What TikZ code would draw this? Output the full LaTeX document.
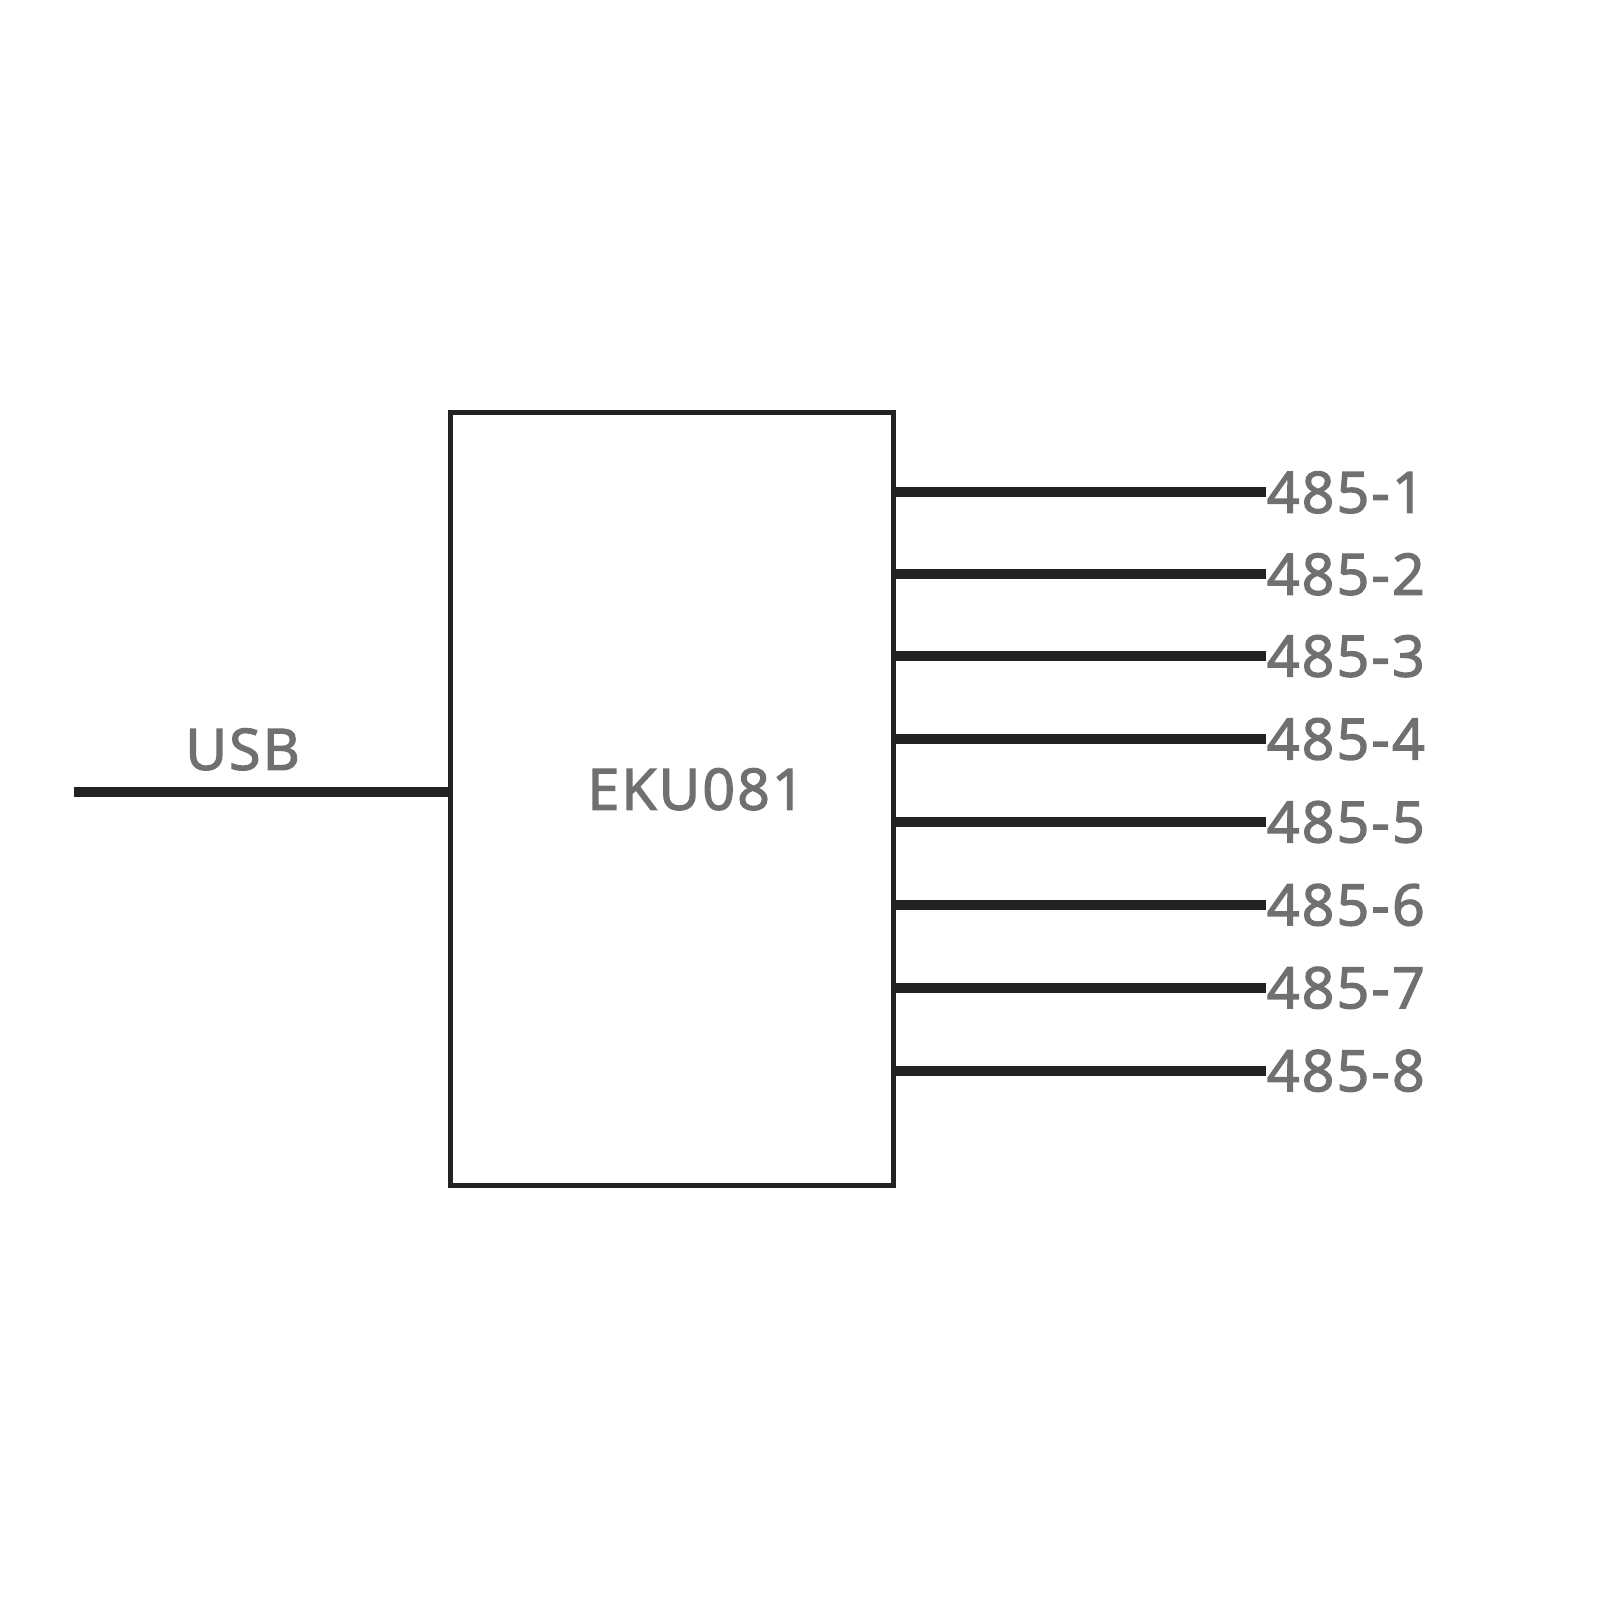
\documentclass[tikz,border=0pt]{standalone}
\usepackage{fontspec}
\setmainfont{Open Sans}
\newfontfamily\tagfont{Open Sans}[FakeBold=2.5]
\usetikzlibrary{positioning}

\definecolor{wire}{HTML}{222222}
\definecolor{lbl}{HTML}{707070}

\begin{document}
\begin{tikzpicture}[x=0.01024cm,y=-0.01024cm,
  port/.style={line width=2.9pt,wire},
  tag/.style={font=\tagfont\fontsize{16.2}{18}\selectfont\addfontfeatures{LetterSpace=4},text=lbl,inner sep=0pt}]
  \useasboundingbox (0,0) rectangle (1563,1563);

  \node[draw=wire,line width=1.2pt,minimum width=4.43cm,minimum height=7.73cm,inner sep=0pt]
    (box) at (656.5,780.5) {};
  \node[tag] (name) at (680,771) {EKU081};

  \coordinate (usbL) at (72,774);
  \coordinate (usbR) at (438,774);
  \draw[port] (usbL) -- (usbR);
  \node[tag] (usb) at (237,732) {USB};

  \foreach \i/\y in {1/481,2/561,3/641,4/722,5/803,6/884,7/965,8/1046} {
    \coordinate (p\i) at (874,\y);
    \node[tag,anchor=west] (l\i) at (1237,\y) {485-\i};
    \draw[port] (p\i) -- (l\i.west);
  }
\end{tikzpicture}
\end{document}
